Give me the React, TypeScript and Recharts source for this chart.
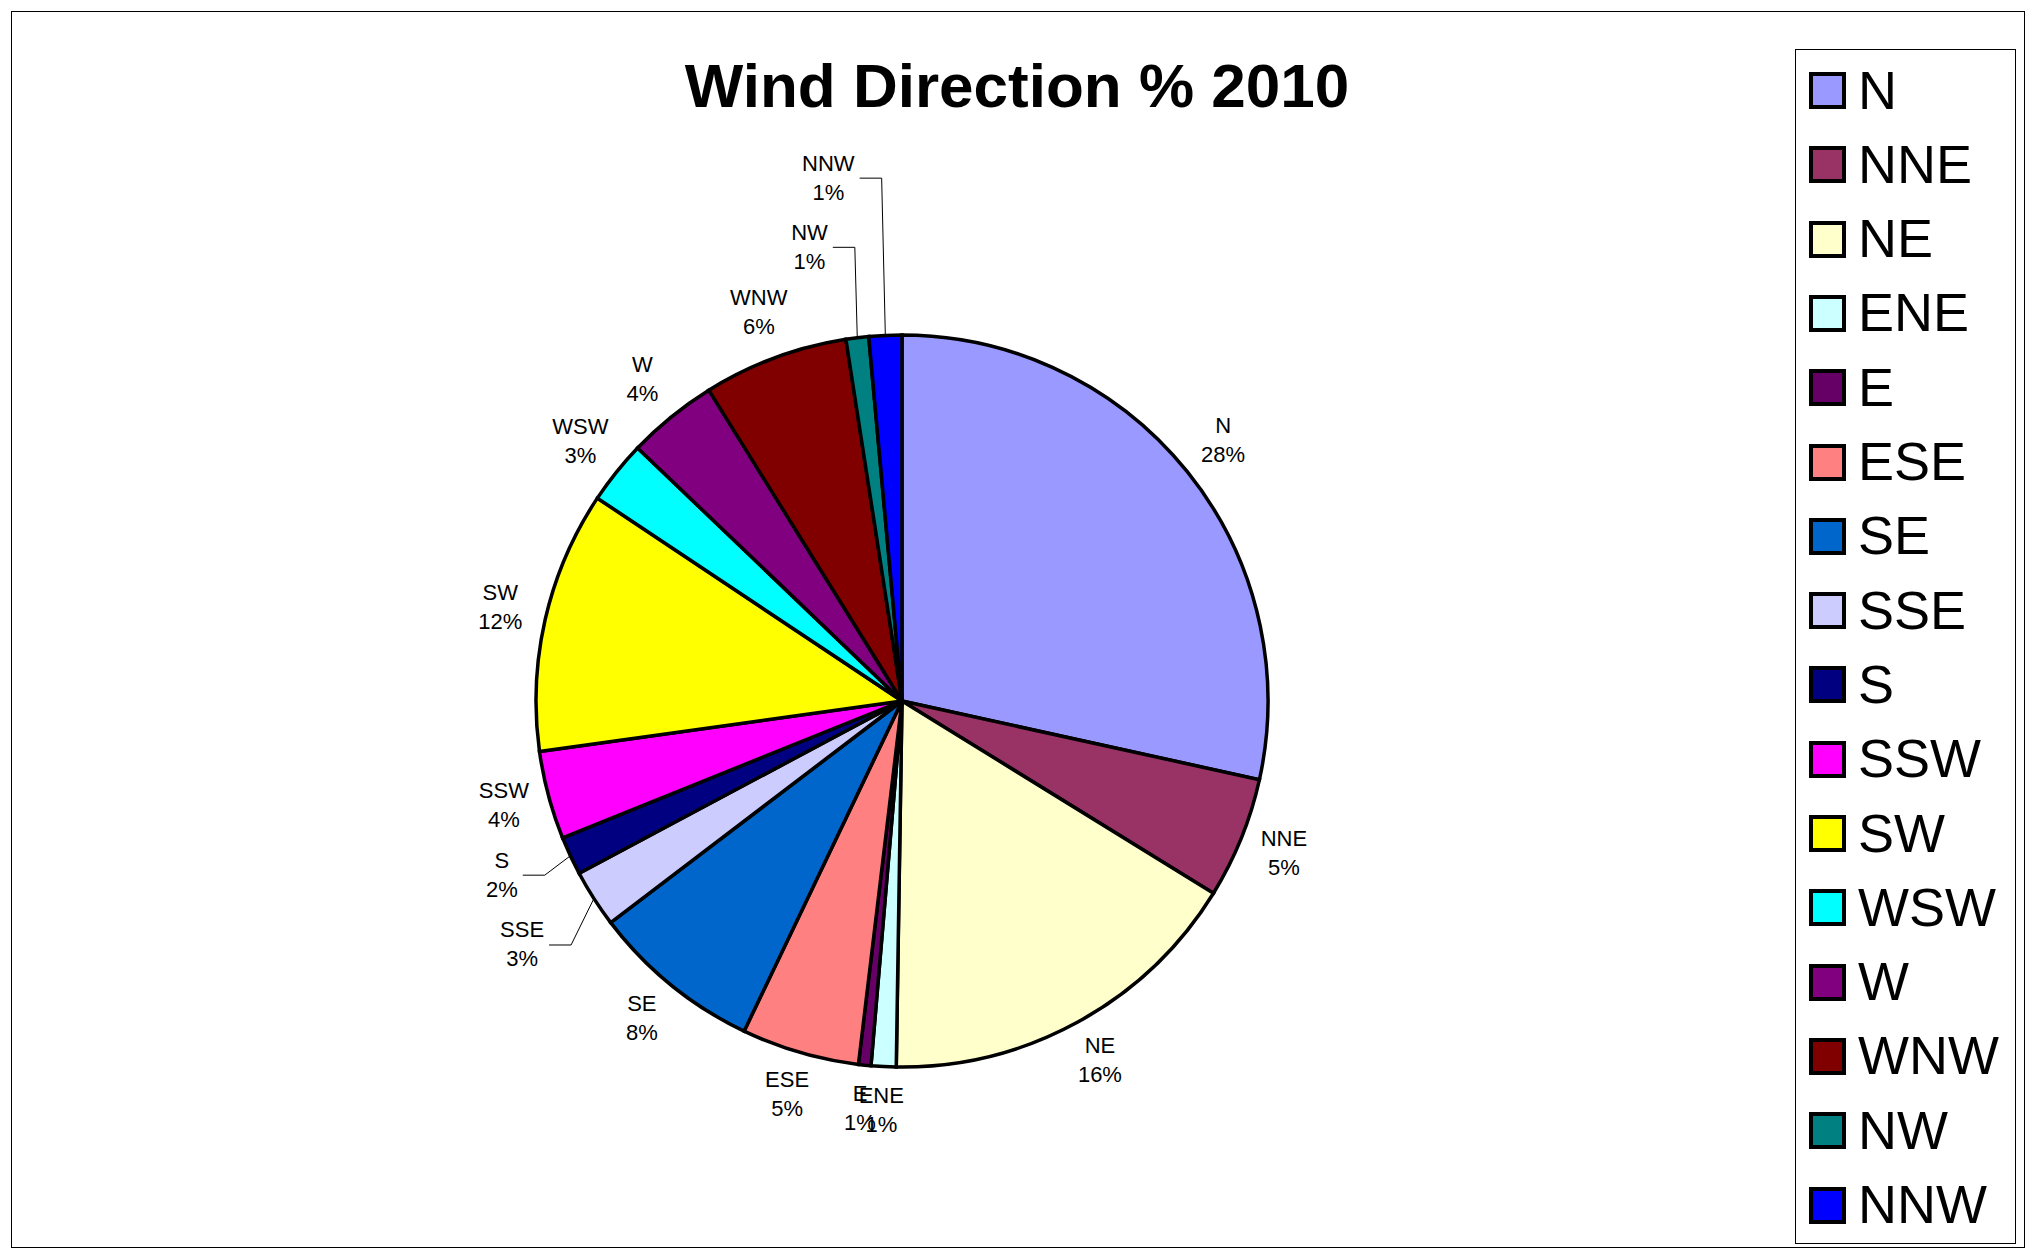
import { PieChart, Pie, Legend } from 'recharts';

const CATEGORIES = ['N', 'NNE', 'NE', 'ENE', 'E', 'ESE', 'SE', 'SSE', 'S', 'SSW', 'SW', 'WSW', 'W', 'WNW', 'NW', 'NNW'];
const PERCENTS = [28.45, 5.35, 16.45, 1.1, 0.55, 5.2, 7.55, 2.55, 1.7, 3.9, 11.55, 2.8, 4.0, 6.4, 1.0, 1.45];
const COLORS = [
    '#9999FF', '#993366', '#FFFFCC', '#CCFFFF', '#660066', '#FF8080', '#0066CC', '#CCCCFF',
    '#000080', '#FF00FF', '#FFFF00', '#00FFFF', '#800080', '#800000', '#008080', '#0000FF',
];
const TITLE = 'Wind Direction % 2010';

const data = CATEGORIES.map((name, i) => ({ name, value: PERCENTS[i], fill: COLORS[i] }));

// labels that Excel moved off the slice and tied back with a leader line
// angle: compass degrees clockwise from top, r: distance from centre
const LEADER_LABELS: Record<string, { angle: number; r: number }> = {
    NNW: { angle: 352, r: 529 },
    NW: { angle: 348.5, r: 464 },
    S: { angle: 246.6, r: 436 },
    SSE: { angle: 237.4, r: 451 },
};

const FONT = '"Liberation Sans", Arial, sans-serif';
const RAD = Math.PI / 180;
const CHAR_W: Record<string, number> = { N: 722, E: 667, S: 667, W: 944, '%': 889 };
const textWidth = (s: string, size: number) =>
    s.split('').reduce((w, c) => w + (CHAR_W[c] ?? 556), 0) * size / 1000;

const LABEL_SIZE = 22;

const renderLabel = (props: any) => {
    const { cx, cy, midAngle, outerRadius, percent } = props;
    const name: string = props.name ?? props.payload?.name;
    const pct = `${Math.round(percent * 100)}%`;
    const lead = LEADER_LABELS[name];
    let lx: number;
    let ly: number;
    if (lead) {
        const a = (90 - lead.angle) * RAD;
        lx = cx + lead.r * Math.cos(a);
        ly = cy - lead.r * Math.sin(a);
    } else {
        const r = outerRadius + 46;
        lx = cx + r * Math.cos(-midAngle * RAD);
        ly = cy + r * Math.sin(-midAngle * RAD) - 3;
    }
    let line = null;
    if (lead) {
        const ex = cx + outerRadius * Math.cos(-midAngle * RAD);
        const ey = cy + outerRadius * Math.sin(-midAngle * RAD);
        const halfW = Math.max(textWidth(name, LABEL_SIZE), textWidth(pct, LABEL_SIZE)) / 2;
        const sx = lx + halfW + 5;
        const elbow = sx + 22;
        line = (
            <polyline
                points={`${sx},${ly + 1} ${elbow},${ly + 1} ${ex},${ey}`}
                fill="none"
                stroke="#000"
                strokeWidth={1}
            />
        );
    }
    return (
        <g key={`label-${name}`}>
            {line}
            <text x={lx} y={ly - 6.5} textAnchor="middle" fontFamily={FONT} fontSize={LABEL_SIZE} fill="#000">
                {name}
            </text>
            <text x={lx} y={ly + 22.5} textAnchor="middle" fontFamily={FONT} fontSize={LABEL_SIZE} fill="#000">
                {pct}
            </text>
        </g>
    );
};

// legend keeps the data order (N ... NNW), not Recharts' alphabetical sort
const renderLegend = () => (
    <div
        style={{
            position: 'relative',
            width: 221,
            height: 1195,
            border: '1px solid #000',
            boxSizing: 'border-box',
            background: '#fff',
            fontFamily: FONT,
        }}
    >
        {data.map((item, i) => {
            const rowCenter = 41.5 + i * 74.3;
            return (
                <div key={item.name}>
                    <div
                        style={{
                            position: 'absolute',
                            left: 13,
                            top: rowCenter - 18.5 - 1,
                            width: 37,
                            height: 37,
                            boxSizing: 'border-box',
                            border: '4px solid #000',
                            background: item.fill,
                        }}
                    />
                    <div
                        style={{
                            position: 'absolute',
                            left: 62,
                            top: rowCenter - 28 - 1,
                            fontSize: 54,
                            lineHeight: '54px',
                            whiteSpace: 'nowrap',
                            color: '#000',
                        }}
                    >
                        {item.name}
                    </div>
                </div>
            );
        })}
    </div>
);

const App = () => {
    return (
        <div style={{ position: 'absolute', left: 0, top: 0, width: 2039, height: 1254, background: '#fff' }}>
            <div
                style={{
                    position: 'absolute',
                    left: 11,
                    top: 11,
                    width: 2014,
                    height: 1237,
                    border: '1.5px solid #000',
                    boxSizing: 'border-box',
                }}
            />
            <div
                style={{
                    position: 'absolute',
                    left: 0,
                    top: 55,
                    width: 2034,
                    textAlign: 'center',
                    fontFamily: FONT,
                    fontWeight: 'bold',
                    fontSize: 62,
                    lineHeight: '62px',
                    color: '#000',
                }}
            >
                {TITLE}
            </div>
            <div style={{ position: 'absolute', left: 0, top: 0 }}>
                <PieChart width={2039} height={1254} margin={{ top: 0, right: 0, bottom: 0, left: 0 }}>
                    <Pie
                        data={data}
                        dataKey="value"
                        nameKey="name"
                        cx={902}
                        cy={701}
                        outerRadius={366}
                        startAngle={90}
                        endAngle={-270}
                        stroke="#000"
                        strokeWidth={3.5}
                        label={renderLabel}
                        labelLine={false}
                        isAnimationActive={false}
                    />
                    <Legend
                        layout="vertical"
                        align="right"
                        verticalAlign="top"
                        content={renderLegend}
                        wrapperStyle={{ left: 1795, top: 49, width: 221, height: 1195, right: 'auto', bottom: 'auto' }}
                    />
                </PieChart>
            </div>
        </div>
    );
};

export default App;
